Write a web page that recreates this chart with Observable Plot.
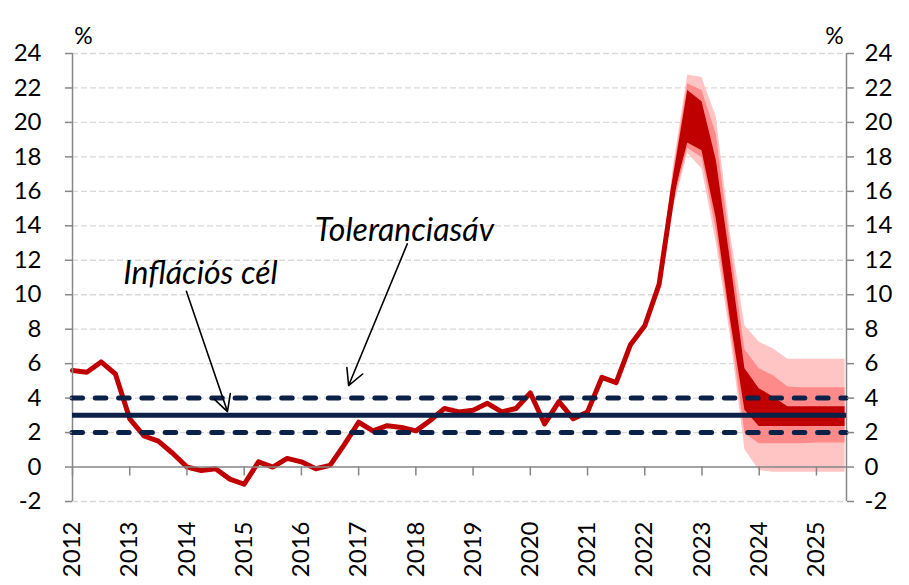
<!DOCTYPE html>
<html><head><meta charset="utf-8">
<script src="https://cdn.jsdelivr.net/npm/d3@7"></script>
<script src="https://cdn.jsdelivr.net/npm/@observablehq/plot@0.6"></script>
<style>
html,body{margin:0;padding:0;background:#fff;}
#chart svg{display:block;}
</style>
</head><body><div id="chart"></div>
<script>
// Year labels (each at the first quarter of the year)
const years = [2012,2013,2014,2015,2016,2017,2018,2019,2020,2021,2022,2023,2024,2025];
// Quarterly inflation, 2012 Q1 .. 2022 Q4 (%), last points run into the fan
const actual = [5.6,5.5,6.1,5.4, 2.8,1.8,1.5,0.8, 0.0,-0.2,-0.1,-0.7, -1.0,0.3,0.0,0.5,
  0.3,-0.1,0.1,1.3, 2.6,2.1,2.4,2.3, 2.1,2.7,3.4,3.2, 3.3,3.7,3.2,3.4,
  4.3,2.5,3.8,2.8, 3.2,5.2,4.9,7.1, 8.2,10.6,16.2,20.3];
// Fan chart: quarter index 41 .. 54
const fanQuarter = [41,42,43,44,45,46,47,48,49,50,51,52,53,54];
const lightHi = [10.6,17.4,22.75,22.6,20.3,13.5,8.2,7.25,6.85,6.25,6.25,6.25,6.25,6.25];
const midHi   = [10.6,17.1,22.25,21.85,19.3,12.8,6.8,5.7,5.3,4.65,4.6,4.6,4.6,4.6];
const darkHi  = [10.6,16.8,21.85,21.2,17.8,11.9,5.7,4.55,4.05,3.5,3.5,3.5,3.5,3.5];
const darkLo  = [10.6,15.6,18.8,18.35,14.4,8.5,3.3,2.35,2.35,2.35,2.35,2.35,2.35,2.35];
const midLo   = [10.6,15.3,18.5,17.95,13.7,8.1,1.95,1.35,1.35,1.35,1.35,1.4,1.4,1.4];
const lightLo = [10.6,15.0,18.2,17.3,13.0,7.5,1.0,-0.2,-0.3,-0.3,-0.3,-0.3,-0.3,-0.3];
// Target and tolerance band
const inflationTarget = [3];
const toleranceBand = [2, 4];
const yTicks = [-2,0,2,4,6,8,10,12,14,16,18,20,22,24];
// Annotations (quarter index, %)
const annotationLabels = [
  {text: "Inflációs cél", x: 8.94, y: 11.2},
  {text: "Toleranciasáv", x: 23.2, y: 13.7}
];
const annotationArrows = [
  {x1: 7.96, y1: 10.2, x2: 10.83, y2: 3.22},
  {x1: 23.4, y1: 12.95, x2: 19.3, y2: 4.73}
];

const fan = fanQuarter.map((q, k) => ({
  q, lightHi: lightHi[k], midHi: midHi[k], darkHi: darkHi[k],
  darkLo: darkLo[k], midLo: midLo[k], lightLo: lightLo[k]
}));
const actualData = actual.map((v, i) => ({q: i, v}));
const yearTicks = years.map((y, k) => ({q: k * 4, label: String(y)}));

const navy = "#0C2148";
const axisGray = "#868686";
const font = "Lato, 'Open Sans', sans-serif";

const chart = Plot.plot({
  width: 909,
  height: 585,
  marginLeft: 72,
  marginRight: 63,
  marginTop: 53,
  marginBottom: 84,
  style: {fontFamily: font, background: "#fff", color: "black"},
  x: {type: "linear", domain: [0, 54.1], axis: null},
  y: {domain: [-2, 24]},
  marks: [
    Plot.ruleY(yTicks.filter(v => v !== 0), {stroke: "#d9d9d9", strokeWidth: 1.3, strokeDasharray: "6,3"}),
    Plot.areaY(fan, {x: "q", y1: "lightLo", y2: "lightHi", fill: "#FFC5C5"}),
    Plot.areaY(fan, {x: "q", y1: "midLo", y2: "midHi", fill: "#FF8A8A"}),
    Plot.areaY(fan, {x: "q", y1: "darkLo", y2: "darkHi", fill: "#C00000"}),
    Plot.line(actualData, {x: "q", y: "v", stroke: "#C00000", strokeWidth: 5, strokeLinejoin: "round", strokeLinecap: "round"}),
    Plot.ruleY([0], {stroke: axisGray, strokeWidth: 1.5}),
    Plot.ruleX([0, 54.1], {y1: -2, y2: 24, stroke: axisGray, strokeWidth: 1.5}),
    Plot.ruleX(yearTicks, {x: "q", y1: 0, y2: -0.52, stroke: axisGray, strokeWidth: 1.5}),
    Plot.ruleY(toleranceBand, {stroke: navy, strokeWidth: 5, strokeDasharray: "10.5,12.8", strokeLinecap: "round"}),
    Plot.ruleY(inflationTarget, {stroke: navy, strokeWidth: 5}),
    Plot.axisY({anchor: "left", ticks: yTicks, tickSize: 7, tickPadding: 24, fontSize: 24,
      stroke: axisGray, strokeWidth: 1.5, fill: "black", tickFormat: d => String(d)}),
    Plot.axisY({anchor: "right", ticks: yTicks, tickSize: 7, tickPadding: 11, fontSize: 24,
      stroke: axisGray, strokeWidth: 1.5, fill: "black", tickFormat: d => String(d)}),
    Plot.text(yearTicks, {x: "q", y: -2, dy: 20, text: "label", rotate: -90, textAnchor: "end",
      lineAnchor: "middle", fontSize: 24, fill: "black"}),
    Plot.text(["%"], {frameAnchor: "top-left", dx: 11, dy: -26, textAnchor: "middle", fontSize: 23, fill: "black"}),
    Plot.text(["%"], {frameAnchor: "top-right", dx: -12, dy: -26, textAnchor: "middle", fontSize: 23, fill: "black"}),
    Plot.arrow(annotationArrows, {x1: "x1", y1: "y1", x2: "x2", y2: "y2", stroke: "black",
      strokeWidth: 1.6, headLength: 17, headAngle: 56}),
    Plot.text(annotationLabels, {x: "x", y: "y", text: "text", fontStyle: "italic", fontSize: 32, fill: "black"})
  ]
});
document.getElementById("chart").appendChild(chart);
</script>
</body></html>
